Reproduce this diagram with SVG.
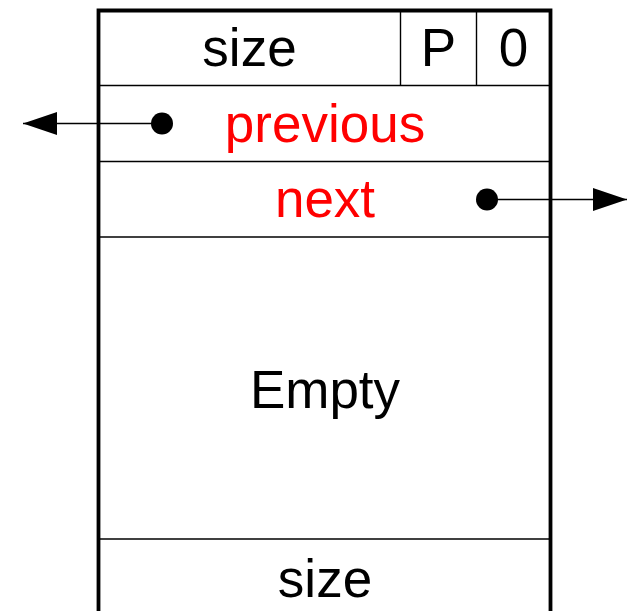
<svg xmlns="http://www.w3.org/2000/svg" width="627" height="611" viewBox="0 0 627 611">
  <style>
    .frame { fill: none; stroke: #000; stroke-width: 3.8; }
    .div { stroke: #000; stroke-width: 1.4; fill: none; }
    .lbl { font-family: "Liberation Sans", Arial, sans-serif; font-size: 53px; text-anchor: middle; fill: #000; }
    .ptr { fill: #ff0000; }
    .link { stroke: #000; stroke-width: 1.3; fill: none; }
    .dot { fill: #000; }
  </style>
  <defs>
    <marker id="arrow" viewBox="0 0 34 23" refX="34" refY="11.5" markerWidth="34" markerHeight="23" markerUnits="userSpaceOnUse" orient="auto">
      <path d="M0,0 L34,11.5 L0,23 Z" fill="#000"/>
    </marker>
  </defs>

  <rect width="627" height="611" fill="#fff"/>

  <!-- free chunk layout -->
  <g id="chunk">
    <path class="frame" d="M98.5,615 V10.5 H550.5 V615"/>
    <line class="div" x1="99" y1="85.5" x2="550" y2="85.5"/>
    <line class="div" x1="99" y1="161.5" x2="550" y2="161.5"/>
    <line class="div" x1="99" y1="237" x2="550" y2="237"/>
    <line class="div" x1="99" y1="539" x2="550" y2="539"/>
    <line class="div" x1="400.5" y1="11" x2="400.5" y2="85"/>
    <line class="div" x1="476.5" y1="11" x2="476.5" y2="85"/>
  </g>

  <g id="size-top"><text class="lbl" x="249.5" y="65.5">size</text></g>
  <g id="flag-p"><text class="lbl" x="438.5" y="65.5">P</text></g>
  <g id="flag-0"><text class="lbl" x="513.5" y="65.5">0</text></g>
  <g id="previous"><text class="lbl ptr" x="325" y="141.5">previous</text></g>
  <g id="next"><text class="lbl ptr" x="325" y="216.5">next</text></g>
  <g id="empty"><text class="lbl" x="325" y="407.5">Empty</text></g>
  <g id="size-bottom"><text class="lbl" x="325" y="596.5">size</text></g>

  <!-- pointer links -->
  <g id="connectors">
    <circle class="dot" cx="162" cy="123.5" r="11"/>
    <line class="link" x1="162" y1="123.5" x2="23" y2="123.5" marker-end="url(#arrow)"/>
    <circle class="dot" cx="487" cy="199.5" r="11"/>
    <line class="link" x1="487" y1="199.5" x2="627" y2="199.5" marker-end="url(#arrow)"/>
  </g>
</svg>
